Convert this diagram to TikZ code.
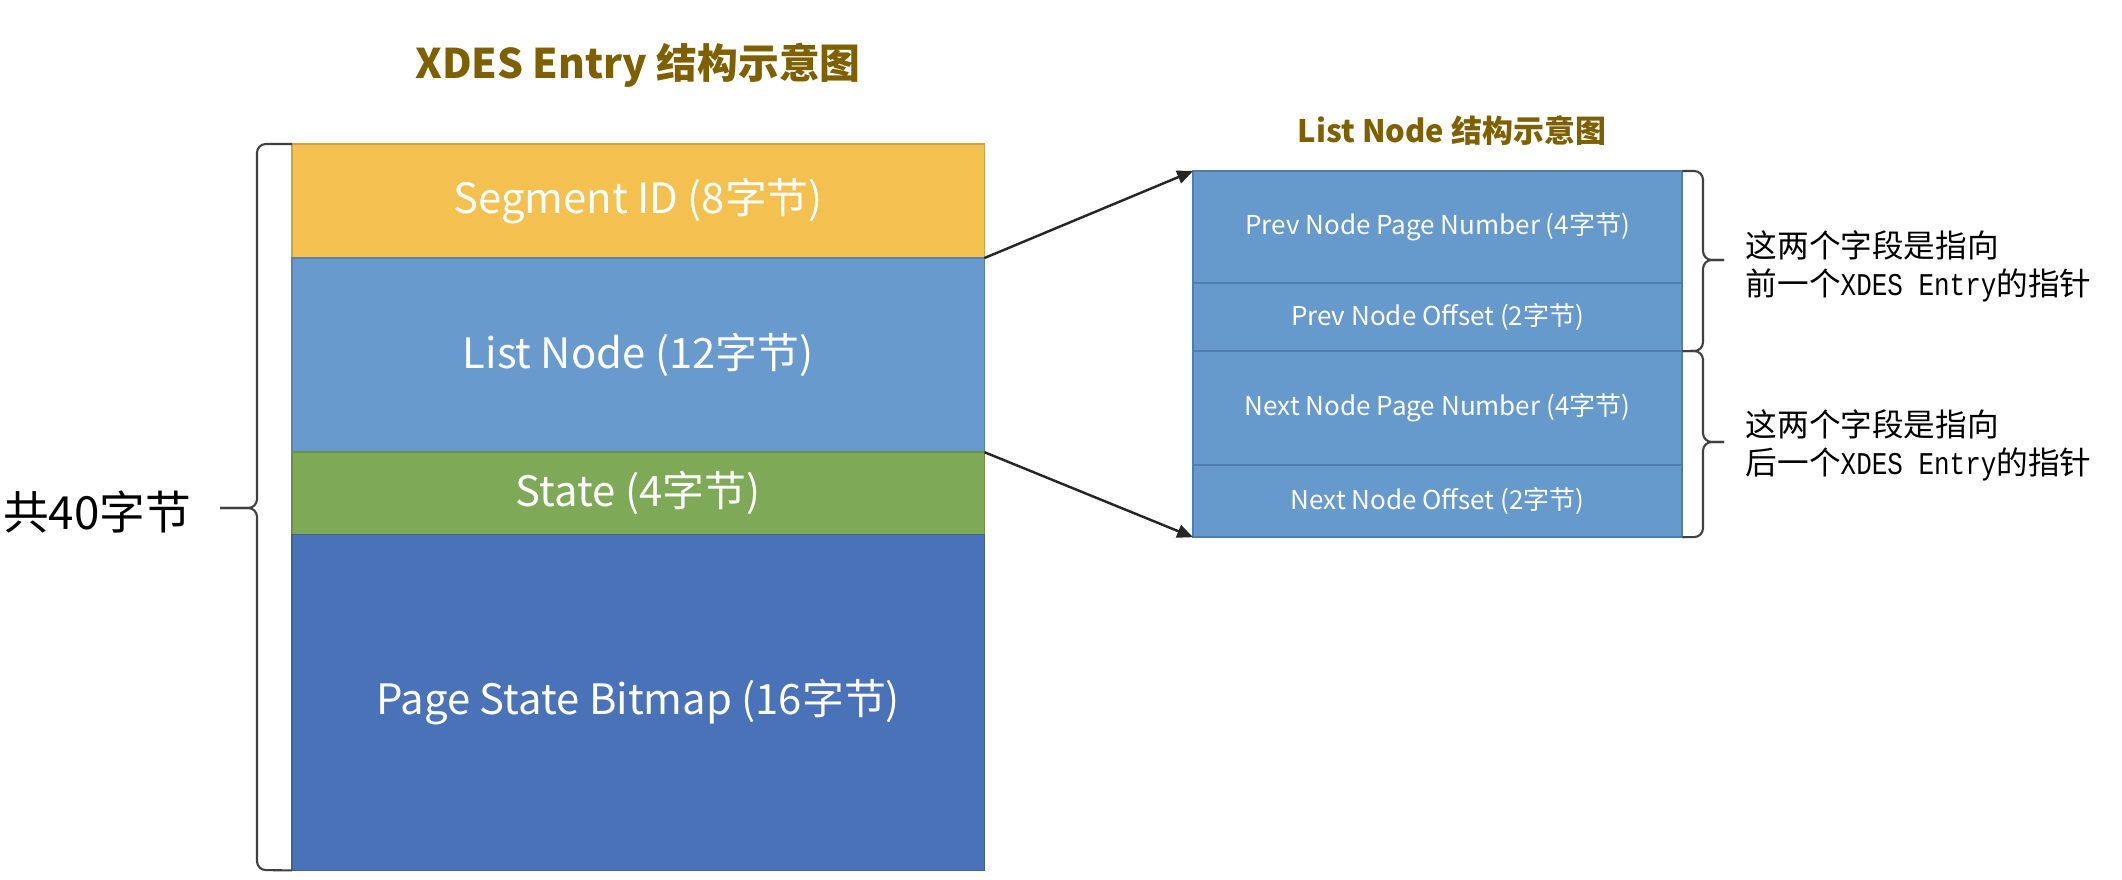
\documentclass[tikz,border=0pt]{standalone}
\usepackage{fontspec}
\setmainfont{Noto Sans CJK SC}
\setmonofont[FakeStretch=0.82]{Liberation Mono}
\usepackage{tikz}
\usetikzlibrary{positioning}
\usetikzlibrary{arrows.meta}
\definecolor{segcol}{HTML}{F4C04F}
\definecolor{lstcol}{HTML}{689ACD}
\definecolor{stcol}{HTML}{7EAA58}
\definecolor{bmpcol}{HTML}{4A72B8}
\definecolor{subcol}{HTML}{6699CC}
\definecolor{subline}{HTML}{4F7DAF}
\definecolor{titlecol}{HTML}{7F6000}
\tikzset{%
  myedge/.style={-{Triangle[length=4.5pt,width=3.8pt]}, line width=0.7pt, draw=black!85},
  mybrace/.style={line width=0.6pt, draw=black!75, rounded corners=2.5pt},
  myfield/.style={draw=#1!85!black, fill=#1, text=white, minimum width=6.92cm,
    inner sep=0pt, outer sep=0pt, font=\fontsize{11.9}{14}\selectfont},
  mysub/.style={draw=subline, line width=0.6pt, fill=subcol, text=white, minimum width=4.89cm,
    inner sep=0pt, outer sep=0pt, font=\fontsize{7.4}{9}\selectfont},
  mytitle/.style={text=titlecol},
  mynote/.style={anchor=west, align=left, inner sep=0pt, font=\fontsize{9}{10.8}\selectfont}
}
\begin{document}
\begin{tikzpicture}[x=0.01cm, y=-0.01cm]
  \useasboundingbox (0,0) rectangle (2122,880);
  \node[mytitle, font=\fontsize{11.6}{14}\selectfont\bfseries] (xtitle) at (638,65) {XDES Entry 结构示意图};
  \node[myfield=segcol, minimum height=1.14cm, anchor=north west] (seg) at (292,144) {Segment ID (8字节)};
  \node[myfield=lstcol, minimum height=1.94cm, below=0pt of seg] (lst) {List Node (12字节)};
  \node[myfield=stcol, minimum height=0.82cm, below=0pt of lst] (st) {State (4字节)};
  \node[myfield=bmpcol, minimum height=3.36cm, below=0pt of st] (bmp) {Page State Bitmap (16字节)};
  \node[font=\fontsize{13}{16}\selectfont] (total) at (97,512) {共40字节};
  \coordinate (ltip) at (220,508);
  \draw[mybrace] (seg.north west) -- (257,144) -- (257,508) -- (ltip);
  \draw[mybrace] (ltip) -- (257,508) -- (257,870) -- (bmp.south west);
  \node[mytitle, font=\fontsize{8.8}{10}\selectfont\bfseries] (ltitle) at (1452,131) {List Node 结构示意图};
  \node[mysub, minimum height=1.12cm, anchor=north west] (pnum) at (1193,171) {Prev Node Page Number (4字节)};
  \node[mysub, minimum height=0.68cm, below=0pt of pnum] (poff) {Prev Node Offset (2字节)};
  \node[mysub, minimum height=1.14cm, below=0pt of poff] (nnum) {Next Node Page Number (4字节)};
  \node[mysub, minimum height=0.72cm, below=0pt of nnum] (noff) {Next Node Offset (2字节)};
  \draw[myedge] (seg.south east) -- (pnum.north west);
  \draw[myedge] (lst.south east) -- (noff.south west);
  \coordinate (ptip) at (1724,260);
  \draw[mybrace] (pnum.north east) -- (1703,171) -- (1703,260) -- (ptip);
  \draw[mybrace] (ptip) -- (1703,260) -- (1703,351) -- (poff.south east);
  \coordinate (ntip) at (1724,442);
  \draw[mybrace] (nnum.north east) -- (1703,351) -- (1703,442) -- (ntip);
  \draw[mybrace] (ntip) -- (1703,442) -- (1703,537) -- (noff.south east);
  \node[mynote] (pnote) at (1745,266) {这两个字段是指向\\前一个\texttt{XDES Entry}的指针};
  \node[mynote] (nnote) at (1745,445) {这两个字段是指向\\后一个\texttt{XDES Entry}的指针};
\end{tikzpicture}
\end{document}
